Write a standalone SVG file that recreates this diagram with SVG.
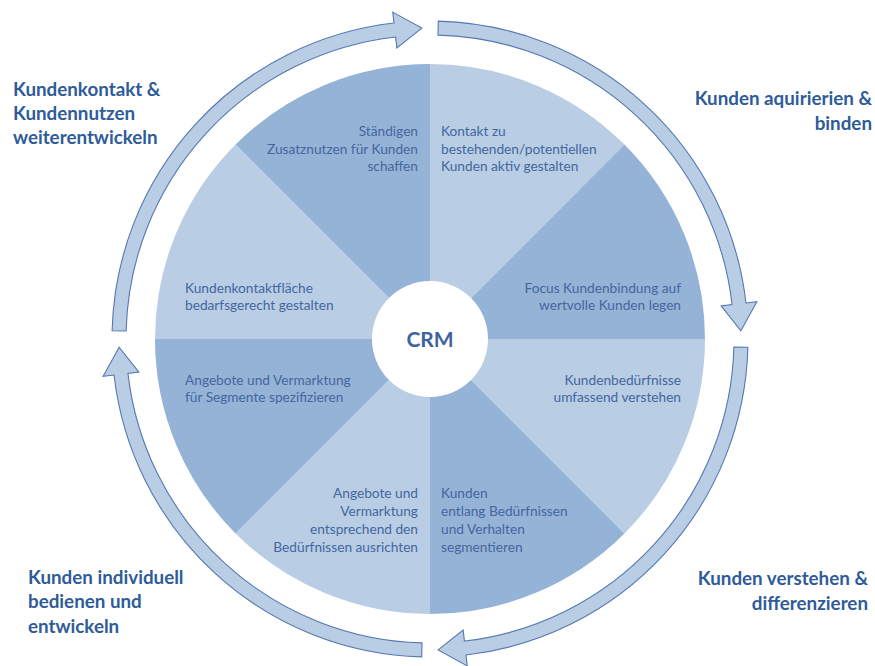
<svg xmlns="http://www.w3.org/2000/svg" width="875" height="666" viewBox="0 0 875 666">
<defs>
<style>
.dark{fill:#95b3d7}
.light{fill:#b9cde5}
.in{font-family:Lato,"Liberation Sans",sans-serif;font-size:13.7px;fill:#43679e}
.out{font-family:Lato,"Liberation Sans",sans-serif;font-size:18.8px;font-weight:bold;fill:#2f5b99}
.crm{font-family:Lato,"Liberation Sans",sans-serif;font-size:21px;font-weight:bold;fill:#3d63a0}
.arrow{fill:#b9cde5;stroke:#5479b0;stroke-width:1.1;stroke-linejoin:miter}
.e{text-anchor:end}
</style>
<path id="arr" class="arrow" d="M317.89 8.32 A318 318 0 0 1 36.00 315.96 L37.24 326.88 L8.14 310.89 L33.17 291.12 L34.41 302.05 A304 304 0 0 0 303.90 7.96 Z"/>
</defs>
<rect width="875" height="666" fill="#fff"/>
<g id="connectors" transform="translate(430 339)">
<use href="#arr"/>
<use href="#arr" transform="rotate(90)"/>
<use href="#arr" transform="rotate(180)"/>
<use href="#arr" transform="rotate(270)"/>
</g>
<g id="slice-kontakt">
<path class="light" d="M430 339 L430 64 A275 275 0 0 1 624.45 144.55 Z"/>
<text class="in" x="441" y="136">Kontakt zu</text>
<text class="in" x="441" y="153.5">bestehenden/potentiellen</text>
<text class="in" x="441" y="171">Kunden aktiv gestalten</text>
</g>
<g id="slice-focus">
<path class="dark" d="M430 339 L624.45 144.55 A275 275 0 0 1 705 339 Z"/>
<text class="in e" x="681" y="293">Focus Kundenbindung auf</text>
<text class="in e" x="681" y="310">wertvolle Kunden legen</text>
</g>
<g id="slice-beduerfnisse">
<path class="light" d="M430 339 L705 339 A275 275 0 0 1 624.45 533.45 Z"/>
<text class="in e" x="681" y="385">Kundenbedürfnisse</text>
<text class="in e" x="681" y="402">umfassend verstehen</text>
</g>
<g id="slice-segmentieren">
<path class="dark" d="M430 339 L624.45 533.45 A275 275 0 0 1 430 614 Z"/>
<text class="in" x="441" y="498">Kunden</text>
<text class="in" x="441" y="516">entlang Bedürfnissen</text>
<text class="in" x="441" y="534">und Verhalten</text>
<text class="in" x="441" y="552">segmentieren</text>
</g>
<g id="slice-ausrichten">
<path class="light" d="M430 339 L430 614 A275 275 0 0 1 235.55 533.45 Z"/>
<text class="in e" x="418" y="498">Angebote und</text>
<text class="in e" x="418" y="516">Vermarktung</text>
<text class="in e" x="418" y="534">entsprechend den</text>
<text class="in e" x="418" y="552">Bedürfnissen ausrichten</text>
</g>
<g id="slice-spezifizieren">
<path class="dark" d="M430 339 L235.55 533.45 A275 275 0 0 1 155 339 Z"/>
<text class="in" x="185" y="385">Angebote und Vermarktung</text>
<text class="in" x="185" y="402">für Segmente spezifizieren</text>
</g>
<g id="slice-kontaktflaeche">
<path class="light" d="M430 339 L155 339 A275 275 0 0 1 235.55 144.55 Z"/>
<text class="in" x="185" y="293">Kundenkontaktfläche</text>
<text class="in" x="185" y="310">bedarfsgerecht gestalten</text>
</g>
<g id="slice-zusatznutzen">
<path class="dark" d="M430 339 L235.55 144.55 A275 275 0 0 1 430 64 Z"/>
<text class="in e" x="418" y="136">Ständigen</text>
<text class="in e" x="418" y="153.5">Zusatznutzen für Kunden</text>
<text class="in e" x="418" y="171">schaffen</text>
</g>
<g id="crm">
<circle cx="430" cy="339" r="58" fill="#fff"/>
<text class="crm" x="430" y="347" text-anchor="middle">CRM</text>
</g>
<g id="label-weiterentwickeln">
<text class="out" x="13" y="96">Kundenkontakt &amp;</text>
<text class="out" x="13" y="120">Kundennutzen</text>
<text class="out" x="13" y="144">weiterentwickeln</text>
</g>
<g id="label-aquirieren">
<text class="out e" x="872" y="105">Kunden aquirierien &amp;</text>
<text class="out e" x="872" y="130">binden</text>
</g>
<g id="label-verstehen">
<text class="out e" x="868" y="585">Kunden verstehen &amp;</text>
<text class="out e" x="868" y="610">differenzieren</text>
</g>
<g id="label-bedienen">
<text class="out" x="28" y="584">Kunden individuell</text>
<text class="out" x="28" y="608">bedienen und</text>
<text class="out" x="28" y="633">entwickeln</text>
</g>
</svg>
